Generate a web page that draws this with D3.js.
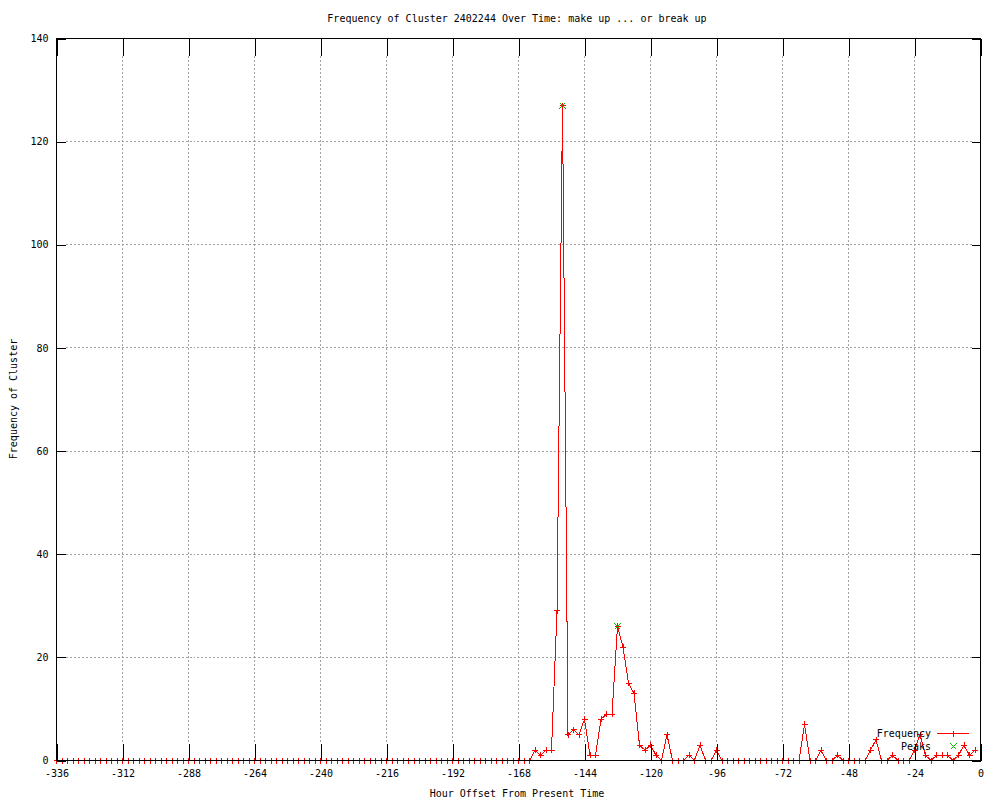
<!DOCTYPE html>
<html lang="en">
<head>
<meta charset="UTF-8">
<title>Frequency of Cluster 2402244 Over Time</title>
<script src="https://d3js.org/d3.v7.min.js"></script>
<style>
    body { margin: 0; background: #fff; }
    text { font-family: "DejaVu Sans Mono", monospace; font-size: 10px; fill: #000; }
    .grid line { stroke: #a0a0a0; stroke-dasharray: 2,2; shape-rendering: crispEdges; }
    .axis path { display: none; }
    .axis line { stroke: #000; shape-rendering: crispEdges; }
    .border { fill: none; stroke: #000; shape-rendering: crispEdges; }
</style>
</head>
<body>
<svg width="1000" height="800"></svg>
<script>
    // hours before now, one sample every 2 hours (-336 .. -2)
    const hours = d3.range(-336, 0, 2);

    // cluster frequency, one value per hour above
    const frequency = [
        0, 0, 0, 0, 0, 0, 0, 0, 0, 0, 0, 0, 0, 0, 0, 0, 0, 0, 0, 0,
        0, 0, 0, 0, 0, 0, 0, 0, 0, 0, 0, 0, 0, 0, 0, 0, 0, 0, 0, 0,
        0, 0, 0, 0, 0, 0, 0, 0, 0, 0, 0, 0, 0, 0, 0, 0, 0, 0, 0, 0,
        0, 0, 0, 0, 0, 0, 0, 0, 0, 0, 0, 0, 0, 0, 0, 0, 0, 0, 0, 0,
        0, 0, 0, 0, 0, 0, 0,
        2, 1, 2, 2, 29, 127, 5, 6, 5, 8, 1, 1, 8, 9, 9, 26, 22, 15, 13, 3,
        2, 3, 1, 0, 5, 0, 0, 0, 1, 0, 3, 0, 0, 2,
        0, 0, 0, 0, 0, 0, 0, 0, 0, 0, 0, 0, 0, 0, 0,
        7, 0, 0, 2, 0, 0, 1, 0, 0, 0, 0, 0, 2, 4, 0, 0, 1, 0, 0, 0,
        2, 5, 1, 0, 1, 1, 1, 0, 1, 3, 1, 2
    ];

    const peakHours = [-152, -132];
    const peakValues = [127, 26];

    const xTicks = [-336, -312, -288, -264, -240, -216, -192, -168, -144, -120, -96, -72, -48, -24, 0];
    const yTicks = [0, 20, 40, 60, 80, 100, 120, 140];

    const plotLeft = 56.5, plotRight = 980.5, plotTop = 38.5, plotBottom = 760.5;

    const svg = d3.select("svg");

    const x = d3.scaleLinear().domain([-336, 0]).range([plotLeft, plotRight]);
    const y = d3.scaleLinear().domain([0, 140]).range([plotBottom, plotTop]);

    // grid (dotted, between tick ends)
    svg.append("g")
        .attr("class", "grid")
        .selectAll("line")
        .data(xTicks)
        .enter().append("line")
        .attr("x1", d => x(d)).attr("x2", d => x(d))
        .attr("y1", plotTop + 17).attr("y2", plotBottom - 17);

    svg.append("g")
        .attr("class", "grid")
        .selectAll("line")
        .data(yTicks)
        .enter().append("line")
        .attr("y1", d => y(d)).attr("y2", d => y(d))
        .attr("x1", plotLeft + 9).attr("x2", plotRight - 9);

    // data line + points
    const data = hours.map((h, i) => ({ h: h, v: frequency[i] }));

    const line = d3.line()
        .x(d => x(d.h))
        .y(d => y(d.v));

    svg.append("path")
        .datum(data)
        .attr("fill", "none")
        .attr("stroke", "#ff0000")
        .attr("stroke-width", 1)
        .attr("shape-rendering", "crispEdges")
        .attr("d", line);

    const plus = "M-3,0H3M0,-3V3";
    const cross = "M-3,-3L3,3M-3,3L3,-3";

    svg.append("g")
        .selectAll("path")
        .data(data)
        .enter().append("path")
        .attr("transform", d => `translate(${x(d.h)},${y(d.v)})`)
        .attr("d", plus)
        .attr("stroke", "#ff0000")
        .attr("shape-rendering", "crispEdges");

    svg.append("g")
        .selectAll("path")
        .data(peakHours)
        .enter().append("path")
        .attr("transform", (d, i) => `translate(${x(d)},${y(peakValues[i])})`)
        .attr("d", cross)
        .attr("stroke", "#00c000")
        .attr("shape-rendering", "crispEdges");

    // axes with ticks pointing inside, mirrored on top/right
    const fmt = d => String(d);

    svg.append("g")
        .attr("class", "axis")
        .attr("transform", `translate(0,${plotBottom})`)
        .call(d3.axisBottom(x).tickValues(xTicks).tickSizeInner(-17).tickSizeOuter(0).tickPadding(9).tickFormat(fmt));

    svg.append("g")
        .attr("class", "axis")
        .attr("transform", `translate(0,${plotTop})`)
        .call(d3.axisTop(x).tickValues(xTicks).tickSizeInner(-17).tickSizeOuter(0).tickFormat(""));

    svg.append("g")
        .attr("class", "axis")
        .attr("transform", `translate(${plotLeft},0)`)
        .call(d3.axisLeft(y).tickValues(yTicks).tickSizeInner(-9).tickSizeOuter(0).tickPadding(8).tickFormat(fmt));

    svg.append("g")
        .attr("class", "axis")
        .attr("transform", `translate(${plotRight},0)`)
        .call(d3.axisRight(y).tickValues(yTicks).tickSizeInner(-9).tickSizeOuter(0).tickFormat(""));

    svg.selectAll(".axis").attr("font-family", null).attr("font-size", null);

    svg.append("rect")
        .attr("class", "border")
        .attr("x", plotLeft).attr("y", plotTop)
        .attr("width", plotRight - plotLeft).attr("height", plotBottom - plotTop);

    // titles
    svg.append("text")
        .attr("x", 517)
        .attr("y", 22)
        .attr("text-anchor", "middle")
        .text("Frequency of Cluster 2402244 Over Time: make up ... or break up");

    svg.append("text")
        .attr("x", 517)
        .attr("y", 797)
        .attr("text-anchor", "middle")
        .text("Hour Offset From Present Time");

    svg.append("text")
        .attr("transform", "translate(17,399) rotate(-90)")
        .attr("text-anchor", "middle")
        .text("Frequency of Cluster");

    // legend
    const legend = svg.append("g").attr("transform", "translate(931,733.5)");

    legend.append("text").attr("x", 0).attr("y", 3.5).attr("text-anchor", "end").text("Frequency");
    legend.append("line")
        .attr("x1", 6).attr("x2", 38).attr("y1", 0).attr("y2", 0)
        .attr("stroke", "#ff0000").attr("shape-rendering", "crispEdges");
    legend.append("path")
        .attr("transform", "translate(22.5,0)")
        .attr("d", plus).attr("stroke", "#ff0000").attr("shape-rendering", "crispEdges");

    legend.append("text").attr("x", 0).attr("y", 16.5).attr("text-anchor", "end").text("Peaks");
    legend.append("path")
        .attr("transform", "translate(22.5,13)")
        .attr("d", cross).attr("stroke", "#00c000").attr("shape-rendering", "crispEdges");
</script>
</body>
</html>
